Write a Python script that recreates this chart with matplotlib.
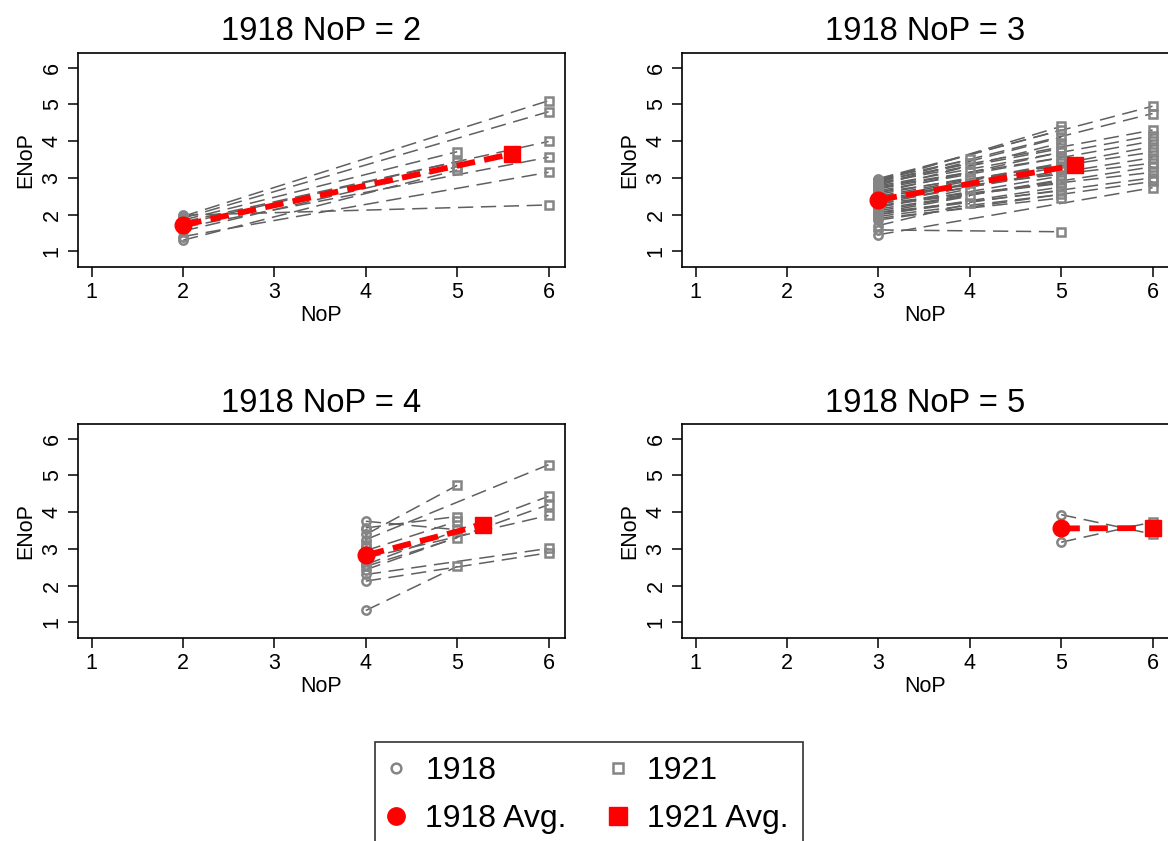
import numpy as np
import matplotlib
matplotlib.use("Agg")
import matplotlib.pyplot as plt
from matplotlib.lines import Line2D

plt.rcParams["font.family"] = ["Liberation Sans", "DejaVu Sans"]

# number of parties in 1918 for each panel
panel_nop = [2, 3, 4, 5]

# ---- 1918 NoP = 2 ----
p2_enop18 = [1.98, 1.95, 1.90, 1.85, 1.80, 1.75, 1.65, 1.55, 1.40, 1.30]
p2_nop21 = [6, 6, 6, 5, 6, 5, 6, 5, 6, 5]
p2_enop21 = [2.26, 5.10, 4.80, 3.71, 3.99, 3.44, 3.56, 3.30, 3.15, 3.21]

# ---- 1918 NoP = 3 ----
p3_enop18 = [2.95, 2.85, 2.70, 2.55, 2.35, 2.20, 2.05, 1.70,
             2.90, 2.95, 2.80, 2.70, 2.85, 2.60, 2.75, 2.50, 2.40, 2.30,
             2.20, 2.10, 2.25, 2.00, 2.05, 1.95, 1.90, 1.58,
             2.98, 2.88, 2.92, 2.78, 2.65, 2.45, 2.60, 2.35, 2.50, 2.15,
             2.30, 2.00, 1.85, 1.45]
p3_nop21 = [4] * 8 + [5] * 18 + [6] * 14
p3_enop21 = [3.50, 3.40, 3.15, 3.00, 2.85, 2.70, 2.50, 2.30,
             4.40, 4.30, 4.10, 3.95, 3.80, 3.70, 3.55, 3.40, 3.30, 3.20,
             3.05, 2.95, 2.85, 2.75, 2.65, 2.55, 2.45, 1.53,
             4.95, 4.75, 4.30, 4.15, 4.00, 3.85, 3.70, 3.55, 3.40, 3.30,
             3.15, 3.00, 2.90, 2.73]

# ---- 1918 NoP = 4 ----
p4_enop18 = [3.55, 3.07, 3.39, 3.25, 3.75, 3.57, 2.95, 2.52, 1.32,
             2.57, 2.43, 2.75, 2.30, 2.12]
p4_nop21 = [4, 4, 5, 6, 5, 5, 5, 5, 5, 6, 6, 6, 6, 6]
p4_enop21 = [3.10, 2.70, 4.73, 5.29, 3.52, 3.88, 3.75, 3.30, 2.52,
             4.43, 4.20, 3.91, 3.01, 2.89]

# ---- 1918 NoP = 5 ----
p5_enop18 = [3.93, 3.18]
p5_nop21 = [6, 6]
p5_enop21 = [3.40, 3.73]

panels = [
    (p2_enop18, p2_nop21, p2_enop21),
    (p3_enop18, p3_nop21, p3_enop21),
    (p4_enop18, p4_nop21, p4_enop21),
    (p5_enop18, p5_nop21, p5_enop21),
]

W, H = 1168, 841
fig = plt.figure(figsize=(W / 100, H / 100), dpi=100)

# axes boxes in pixels: left, top
boxes = [(78, 53), (682, 53), (78, 424), (682, 424)]
bw, bh = 487, 214

line_col = "#606060"
pt_col = "#858585"

for (nop, (e18, n21, e21), (bx, by)) in zip(panel_nop, panels, boxes):
    ax = fig.add_axes([bx / W, 1 - (by + bh) / H, bw / W, bh / H])
    e18 = np.asarray(e18)
    n21 = np.asarray(n21)
    e21 = np.asarray(e21)
    n18 = np.full(len(e18), nop)

    for a, b, c, d in zip(n18, e18, n21, e21):
        ax.plot([a, c], [b, d], color=line_col, lw=1.1,
                ls=(0, (10, 5)), zorder=2)
    ax.plot(n18, e18, "o", ms=6, mfc="none", mec=pt_col, mew=1.8,
            ls="none", zorder=3)
    ax.plot(n21, e21, "s", ms=6, mfc="none", mec=pt_col, mew=1.8,
            ls="none", zorder=3)

    # averages
    avg_x = [nop, n21.mean()]
    avg_y = [e18.mean(), e21.mean()]
    ax.plot(avg_x, avg_y, color="red", lw=4.2, ls=(0, (3.2, 1.6)),
            zorder=4)
    ax.plot(avg_x[0], avg_y[0], "o", color="red", ms=12, zorder=5)
    ax.plot(avg_x[1], avg_y[1], "s", color="red", ms=12, zorder=5)

    ax.set_xlim(0.85, 6.18)
    ax.set_ylim(0.57, 6.4)
    ax.set_xticks(range(1, 7))
    ax.set_yticks(range(1, 7))
    ax.tick_params(length=7, width=1.1, labelsize=15.5, pad=4)
    for lab in ax.get_yticklabels():
        lab.set_rotation(90)
        lab.set_va("center")
    for sp in ax.spines.values():
        sp.set_linewidth(1.2)
    ax.set_xlabel("NoP", fontsize=15.5, labelpad=1)
    ax.set_ylabel("ENoP", fontsize=15.5, labelpad=4)
    ax.set_title("1918 NoP = %d" % nop, fontsize=23.5, pad=9)

handles = [
    Line2D([], [], marker="o", ls="none", ms=7, mfc="none", mec=pt_col,
           mew=1.8),
    Line2D([], [], marker="o", ls="none", ms=12.5, color="red"),
    Line2D([], [], marker="s", ls="none", ms=7, mfc="none", mec=pt_col,
           mew=1.8),
    Line2D([], [], marker="s", ls="none", ms=12.5, color="red"),
]
labels = ["1918", "1918 Avg.", "1921", "1921 Avg."]
leg = fig.legend(handles, labels, loc="upper left",
                 bbox_to_anchor=(375 / W, 1 - 742 / H), ncol=2,
                 fontsize=23, frameon=True, fancybox=False,
                 handlelength=0.4, handletextpad=0.72, columnspacing=1.4,
                 labelspacing=0.55, borderpad=0.45, borderaxespad=0)
leg.get_frame().set_edgecolor("black")
leg.get_frame().set_linewidth(1.2)

fig.savefig("out.png", dpi=100)
